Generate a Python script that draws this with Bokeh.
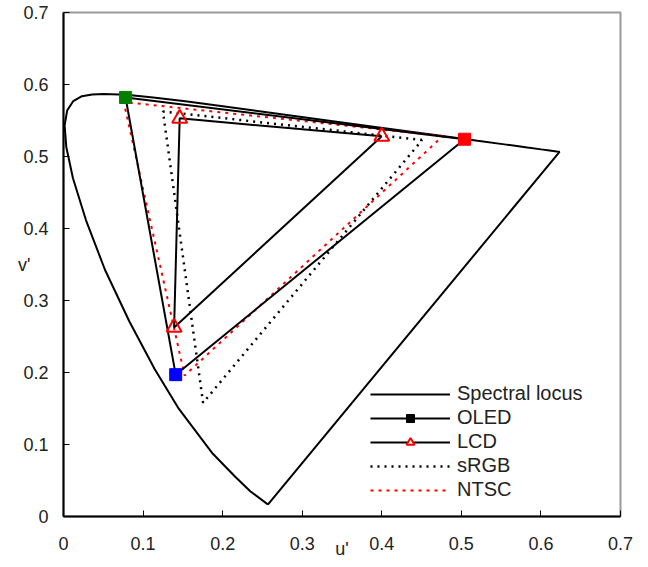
from bokeh.plotting import figure
from bokeh.models import (FixedTicker, CustomJSTickFormatter, Legend, LegendItem,
                          ColumnDataSource, Range1d)
from bokeh.embed import file_html
from bokeh.resources import INLINE

# Spectral locus (CIE 1976 u', v'), 380 nm -> 700 nm, closed by purple line
locus_u = [0.2568, 0.2563, 0.2347, 0.2161, 0.1877, 0.1441, 0.1147, 0.0828, 0.0521,
           0.0282, 0.0119, 0.0035, 0.0014, 0.0046, 0.0123, 0.0231, 0.0360, 0.0501,
           0.0792, 0.1127, 0.1531, 0.2026, 0.2623, 0.3315, 0.4035, 0.4692, 0.5203,
           0.5565, 0.5830, 0.6005, 0.6109, 0.6199, 0.6234, 0.2568]
locus_v = [0.0165, 0.0172, 0.0350, 0.0549, 0.0871, 0.1510, 0.2044, 0.2708, 0.3427,
           0.4117, 0.4698, 0.5131, 0.5432, 0.5638, 0.5770, 0.5837, 0.5861, 0.5868,
           0.5856, 0.5821, 0.5766, 0.5694, 0.5604, 0.5501, 0.5393, 0.5296, 0.5219,
           0.5165, 0.5125, 0.5099, 0.5084, 0.5070, 0.5065, 0.0165]

# Primaries: order R, G, B
oled_u = [0.504, 0.078, 0.141]
oled_v = [0.524, 0.582, 0.197]
oled_colors = ["#ff0000", "#008000", "#0000ff"]

lcd_u = [0.400, 0.146, 0.139]
lcd_v = [0.528, 0.553, 0.2625]

srgb_u = [0.4507, 0.1250, 0.1754]
srgb_v = [0.5229, 0.5625, 0.1579]

ntsc_u = [0.4769, 0.0757, 0.1522]
ntsc_v = [0.5285, 0.5757, 0.1957]

ticks = [0, 0.1, 0.2, 0.3, 0.4, 0.5, 0.6, 0.7]
legend_labels = ["Spectral locus", "OLED", "LCD", "sRGB", "NTSC"]

FONT = "Liberation Sans"
TXT = "#222222"

p = figure(width=640, height=565, output_backend="svg", toolbar_location=None,
           x_range=Range1d(0, 0.7), y_range=Range1d(0, 0.7),
           min_border_left=63, min_border_right=20, min_border_top=12,
           min_border_bottom=49)
p.grid.visible = False
p.outline_line_color = "#999999"
p.outline_line_width = 2
p.background_fill_color = "white"
p.border_fill_color = "white"

fmt = CustomJSTickFormatter(code="return tick == 0 ? '0' : tick.toFixed(1);")
for ax in (p.xaxis[0], p.yaxis[0]):
    ax.ticker = FixedTicker(ticks=ticks)
    ax.formatter = fmt
    ax.minor_tick_line_color = None
    ax.major_tick_in = 6
    ax.major_tick_out = 0
    ax.axis_line_color = "black"
    ax.axis_line_width = 2
    ax.major_tick_line_color = "black"
    ax.major_label_text_font = FONT
    ax.major_label_text_font_size = "18px"
    ax.major_label_text_color = TXT
    ax.axis_label_text_font = FONT
    ax.axis_label_text_font_size = "18px"
    ax.axis_label_text_font_style = "normal"
    ax.axis_label_text_color = TXT

p.xaxis[0].axis_label = "u'"
p.xaxis[0].major_label_standoff = 20
p.xaxis[0].axis_label_standoff = -14
p.yaxis[0].axis_label = "v'"
p.yaxis[0].axis_label_orientation = "horizontal"
p.yaxis[0].major_label_standoff = 15
p.yaxis[0].axis_label_standoff = -10

# Spectral locus
r_locus = p.line(locus_u, locus_v, line_color="black", line_width=2)

# sRGB and NTSC (closed triangles)
r_srgb = p.line(srgb_u + srgb_u[:1], srgb_v + srgb_v[:1], line_color="black",
                line_width=2.5, line_dash="2 5")
r_ntsc = p.line(ntsc_u + ntsc_u[:1], ntsc_v + ntsc_v[:1], line_color="#ff0000",
                line_width=2, line_dash="3 5")

# OLED and LCD triangles
r_oled_line = p.line(oled_u + oled_u[:1], oled_v + oled_v[:1], line_color="black",
                     line_width=2)
r_lcd_line = p.line(lcd_u + lcd_u[:1], lcd_v + lcd_v[:1], line_color="black",
                    line_width=2)
p.scatter(oled_u, oled_v, marker="square", size=12, fill_color=oled_colors,
          line_color=oled_colors)
p.scatter(lcd_u, lcd_v, marker="triangle", size=15, fill_color="white",
          fill_alpha=0.0, line_color="#ff0000", line_width=2)

# Legend-only marker renderers (kept outside the visible ranges)
off = ColumnDataSource(data=dict(x=[-1.0], y=[-1.0]))
leg_oled_m = p.scatter("x", "y", source=off, marker="square", size=11,
                       fill_color="black", line_color="black")
leg_lcd_m = p.scatter("x", "y", source=off, marker="triangle", size=15,
                      fill_color="white", line_color="#ff0000", line_width=2)

legend = Legend(items=[
    LegendItem(label=legend_labels[0], renderers=[r_locus]),
    LegendItem(label=legend_labels[1], renderers=[r_oled_line, leg_oled_m]),
    LegendItem(label=legend_labels[2], renderers=[r_lcd_line, leg_lcd_m]),
    LegendItem(label=legend_labels[3], renderers=[r_srgb]),
    LegendItem(label=legend_labels[4], renderers=[r_ntsc]),
], location=(307, 15))
legend.border_line_color = None
legend.background_fill_alpha = 0.0
legend.glyph_width = 80
legend.glyph_height = 20
legend.label_height = 20
legend.spacing = 1
legend.padding = 4
legend.label_standoff = 7
legend.label_text_font = FONT
legend.label_text_font_size = "20px"
legend.label_text_color = TXT
p.add_layout(legend, "center")

open("out.html", "w").write(file_html(p, INLINE))
